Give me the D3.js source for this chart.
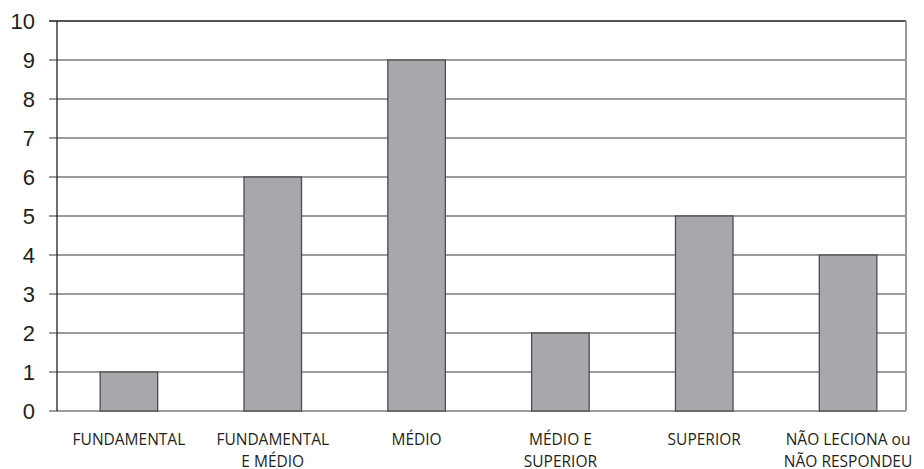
<!DOCTYPE html>
<html>
<head>
<meta charset="utf-8">
<script src="https://cdn.jsdelivr.net/npm/d3@7"></script>
<style>
  body { margin: 0; background: #fff; }
  svg { display: block; }
  .xlab { font-family: "Open Sans", "Liberation Sans", sans-serif; font-size: 15.5px; fill: #231f20; }
</style>
</head>
<body>
<svg id="chart" width="924" height="469"></svg>
<script>
// categories and counts
const categories = ["FUNDAMENTAL", "FUNDAMENTAL|E MÉDIO", "MÉDIO", "MÉDIO E|SUPERIOR", "SUPERIOR", "NÃO LECIONA ou|NÃO RESPONDEU"];
const counts = [1, 6, 9, 2, 5, 4];
const yTicks = [0, 1, 2, 3, 4, 5, 6, 7, 8, 9, 10];

const svg = d3.select("#chart");
const plotLeft = 57, plotRight = 906, plotTop = 21, plotBottom = 411;

const x = d3.scaleBand()
    .domain(categories)
    .range([plotLeft, 920])
    .paddingInner(0.6)
    .paddingOuter(0.3);

const y = d3.scaleLinear().domain([0, 10]).range([plotBottom, plotTop]);

// gridlines + ticks
const grid = svg.append("g");
grid.selectAll("line")
    .data(yTicks)
    .join("line")
    .attr("x1", plotLeft - 8)
    .attr("x2", plotRight)
    .attr("y1", d => y(d))
    .attr("y2", d => y(d))
    .attr("stroke", d => d === 10 ? "#555" : "#7a7a7a")
    .attr("stroke-width", d => d === 10 ? 2 : 1.5);

grid.selectAll("text")
    .data(yTicks)
    .join("text")
    .attr("x", 35)
    .attr("y", d => y(d))
    .attr("dy", "0.36em")
    .attr("text-anchor", "end")
    .style("font-family", "'Liberation Sans', Arial, sans-serif")
    .style("font-size", "22px")
    .style("fill", "#231f20")
    .text(d => d);

// right border
svg.append("line")
    .attr("x1", plotRight).attr("x2", plotRight)
    .attr("y1", plotTop).attr("y2", plotBottom)
    .attr("stroke", "#999").attr("stroke-width", 2);

// bars
svg.append("g")
    .selectAll("rect")
    .data(categories)
    .join("rect")
    .attr("x", d => x(d))
    .attr("y", (d, i) => y(counts[i]))
    .attr("width", x.bandwidth())
    .attr("height", (d, i) => y(0) - y(counts[i]))
    .attr("fill", "#a7a8ab")
    .attr("stroke", "#4d4d4f")
    .attr("stroke-width", 1.3);

// left axis line
svg.append("line")
    .attr("x1", plotLeft).attr("x2", plotLeft)
    .attr("y1", plotTop).attr("y2", plotBottom)
    .attr("stroke", "#231f20").attr("stroke-width", 1.3);

// category labels
const labels = svg.append("g")
    .selectAll("text")
    .data(categories)
    .join("text")
    .attr("class", "xlab")
    .attr("text-anchor", "middle")
    .attr("x", d => x(d) + x.bandwidth() / 2)
    .attr("y", 445);

labels.selectAll("tspan")
    .data(d => d.split("|"))
    .join("tspan")
    .attr("x", function () { return this.parentNode.getAttribute("x"); })
    .attr("dy", (d, i) => i === 0 ? 0 : 21.5)
    .text(d => d);
</script>
</body>
</html>
